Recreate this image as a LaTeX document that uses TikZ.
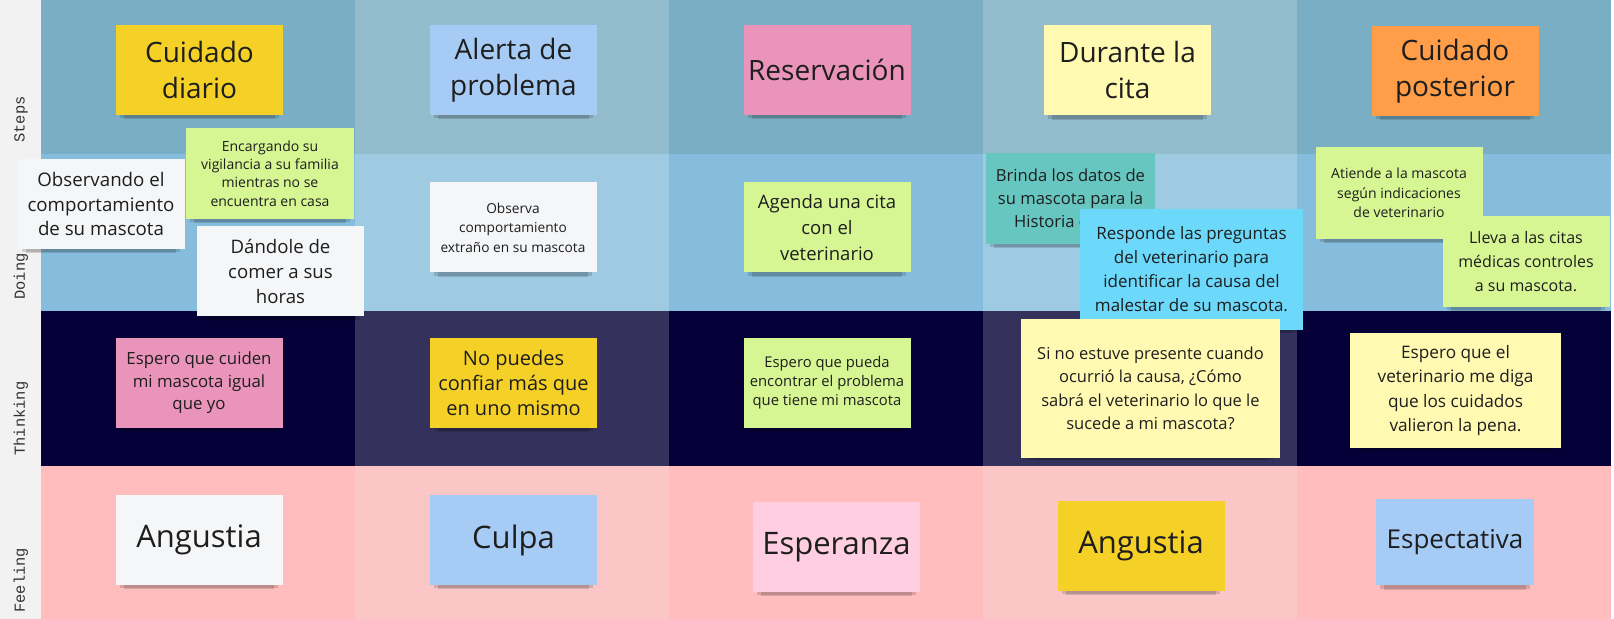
\documentclass[tikz,border=0pt]{standalone}
\usepackage{fontspec}
\setmainfont{Open Sans}
\newfontfamily\rowfont{Liberation Mono}
\usetikzlibrary{shadows}

\definecolor{stepsA}{RGB}{122,174,196}
\definecolor{stepsB}{RGB}{147,188,204}
\definecolor{doingA}{RGB}{134,189,221}
\definecolor{doingB}{RGB}{158,202,226}
\definecolor{thinkA}{RGB}{5,0,56}
\definecolor{thinkB}{RGB}{52,49,92}
\definecolor{feelA}{RGB}{255,189,189}
\definecolor{feelB}{RGB}{250,198,198}
\definecolor{sidebar}{RGB}{242,242,242}
\definecolor{yellowNote}{RGB}{245,209,40}
\definecolor{paleNote}{RGB}{255,249,177}
\definecolor{blueNote}{RGB}{166,204,245}
\definecolor{pinkNote}{RGB}{234,148,187}
\definecolor{lightPink}{RGB}{255,206,224}
\definecolor{orangeNote}{RGB}{255,157,72}
\definecolor{greenNote}{RGB}{213,246,146}
\definecolor{whiteNote}{RGB}{245,246,248}
\definecolor{tealNote}{RGB}{103,198,192}
\definecolor{cyanNote}{RGB}{108,216,250}
\definecolor{inkNote}{RGB}{30,30,30}

\begin{document}
\begin{tikzpicture}[x=0.5pt,y=-0.5pt]

\tikzset{
	note/.style={
		rectangle,
		inner sep=0pt,
		align=center,
		text=inkNote,
		minimum width=83.5pt,minimum height=45pt,
		drop shadow={shadow xshift=0pt,shadow yshift=-5pt,shadow scale=0.9,opacity=0.14,fill=black},
		drop shadow={shadow xshift=0pt,shadow yshift=-3pt,shadow scale=0.95,opacity=0.14,fill=black}
	}
}

\tikzset{
	titlenote/.style={
		note,
		font=\fontsize{14}{18}\selectfont
	}
}

\tikzset{
	feelnote/.style={
		note,
		font=\fontsize{15.5}{18}\selectfont
	}
}

\tikzset{
	rowlabel/.style={
		rotate=90,
		anchor=west,
		inner sep=0pt,
		text=black!80,
		font=\rowfont\fontsize{7.7}{9}\selectfont
	}
}

\def\colw{314}

\useasboundingbox (0,0) rectangle (1614,619);

% board
\fill[sidebar] (0,0) rectangle (41,619);
\foreach \band/\ytop/\ybot in {steps/0/154,doing/154/311,think/311/466,feel/466/619}
	\foreach \col/\tone in {0/A,1/B,2/A,3/B,4/A}
		\fill[\band\tone] (41+\col*\colw,\ytop) rectangle (41+\col*\colw+\colw,\ybot);

% row labels
\node[rowlabel] (steps) at (21,143) {Steps};
\node[rowlabel] (doing) at (21,300) {Doing};
\node[rowlabel] (thinking) at (21,456) {Thinking};
\node[rowlabel] (feeling) at (21,613) {Feeling};

% steps
\node[titlenote, fill=yellowNote] (diario) at (199.5,70) {Cuidado\\diario};
\node[titlenote, fill=blueNote] (alerta) at (513.5,70) {Alerta de\\problema};
\node[titlenote, fill=pinkNote] (reserva) at (827,70) {Reservación};
\node[titlenote, fill=paleNote] (durante) at (1127.5,70.5) {Durante la\\cita};
\node[titlenote, fill=orangeNote] (posterior) at (1455,71) {Cuidado\\posterior};

% doing
\node[note, fill=whiteNote, font=\fontsize{9.35}{12.4}\selectfont] (observando) at (101,204) {Observando el\\comportamiento\\de su mascota};
\node[note, fill=greenNote, minimum width=84pt, minimum height=45.5pt, font=\fontsize{7}{9.2}\selectfont] (encargando) at (270,173.5) {Encargando su\\vigilancia a su familia\\mientras no se\\encuentra en casa};
\node[note, fill=whiteNote, font=\fontsize{9.3}{12.5}\selectfont] (dandole) at (280.5,271.5) {Dándole de\\comer a sus\\horas};
\node[note, fill=whiteNote, font=\fontsize{6.85}{9.8}\selectfont] (observa) at (513,227.5) {Observa\\comportamiento\\extraño en su mascota};
\node[note, fill=greenNote, font=\fontsize{9.25}{13}\selectfont] (agenda) at (827,227.5) {Agenda una cita\\con el\\veterinario};
\node[note, fill=tealNote, minimum width=84.5pt, minimum height=45.5pt, font=\fontsize{8.3}{11.5}\selectfont] (brinda) at (1070.5,198.5) {Brinda los datos de\\su mascota para la\\Historia clínica};
\node[note, fill=cyanNote, minimum width=111.5pt, minimum height=60.5pt, font=\fontsize{8.5}{12}\selectfont] (responde) at (1191.5,269.5) {Responde las preguntas\\del veterinario para\\identificar la causa del\\malestar de su mascota.};
\node[note, fill=greenNote, minimum height=46pt, font=\fontsize{7}{9.8}\selectfont] (atiende) at (1399,193) {Atiende a la mascota\\según indicaciones\\de veterinario};
\node[note, fill=greenNote, minimum height=45.5pt, font=\fontsize{8}{12}\selectfont] (lleva) at (1526,261.5) {Lleva a las citas\\médicas controles\\a su mascota.};

% thinking
\node[note, fill=pinkNote, font=\fontsize{8.4}{11.3}\selectfont] (cuiden) at (199,383) {Espero que cuiden\\mi mascota igual\\que yo};
\node[note, fill=yellowNote, font=\fontsize{10}{12.6}\selectfont] (confiar) at (513.5,383) {No puedes\\confiar más que\\en uno mismo};
\node[note, fill=greenNote, font=\fontsize{7.4}{9.5}\selectfont] (encontrar) at (827,383) {Espero que pueda\\encontrar el problema\\que tiene mi mascota};
\node[note, fill=paleNote, minimum width=129.5pt, minimum height=69.5pt, font=\fontsize{8.25}{11.7}\selectfont] (presente) at (1150.5,388.5) {Si no estuve presente cuando\\ocurrió la causa, ¿Cómo\\sabrá el veterinario lo que le\\sucede a mi mascota?};
\node[note, fill=paleNote, minimum width=105.5pt, minimum height=57.5pt, font=\fontsize{8.6}{12.3}\selectfont] (valieron) at (1455.5,390.5) {Espero que el\\veterinario me diga\\que los cuidados\\valieron la pena.};

% feeling
\node[feelnote, fill=whiteNote] (angustia) at (199,540) {Angustia};
\node[feelnote, fill=blueNote] (culpa) at (513.5,540) {Culpa};
\node[feelnote, fill=lightPink] (esperanza) at (836.5,547) {Esperanza};
\node[feelnote, fill=yellowNote] (angustiab) at (1141,546) {Angustia};
\node[note, fill=blueNote, minimum width=79pt, minimum height=43pt, font=\fontsize{13}{16}\selectfont] (espectativa) at (1455,542) {Espectativa};

\end{tikzpicture}
\end{document}
